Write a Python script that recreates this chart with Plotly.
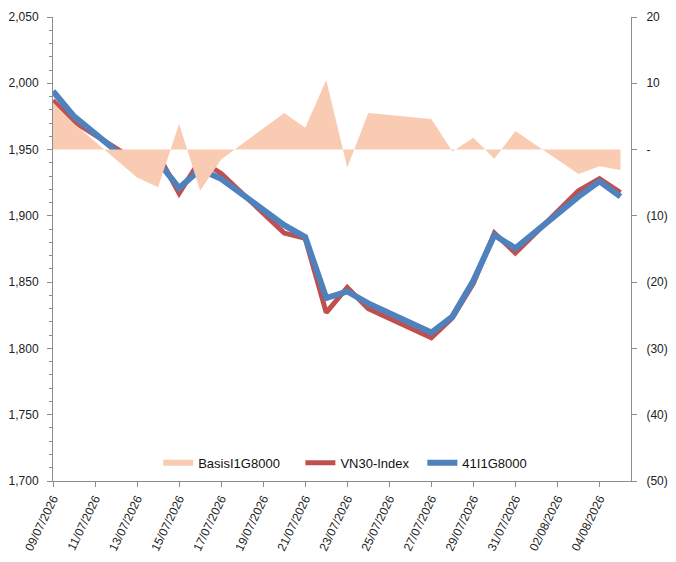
import plotly.graph_objects as go

# trading days (weekends skipped)
dates = ['2026-07-09', '2026-07-10', '2026-07-13', '2026-07-14', '2026-07-15',
         '2026-07-16', '2026-07-17', '2026-07-20', '2026-07-21', '2026-07-22',
         '2026-07-23', '2026-07-24', '2026-07-27', '2026-07-28', '2026-07-29',
         '2026-07-30', '2026-07-31', '2026-08-03', '2026-08-04', '2026-08-05']

vn30 = [1987, 1971, 1941, 1946, 1917, 1942, 1932, 1887, 1883, 1827,
        1846, 1830, 1808, 1823, 1849, 1887, 1872, 1919, 1928, 1917.5]

fut = [1994, 1975, 1936, 1941, 1921, 1935, 1928, 1893, 1884, 1838,
       1843, 1834, 1812, 1824, 1851, 1885.5, 1875.5, 1914.5, 1926, 1914.5]

basis = [7.1, 3.9, -4.2, -5.7, 3.9, -6.2, -1.5, 5.5, 3.3, 10.5,
         -2.7, 5.5, 4.6, -0.3, 1.8, -1.4, 2.8, -3.7, -2.5, -3.1]

right_vals = [20, 10, 0, -10, -20, -30, -40, -50]
right_text = ['20', '10', '-', '(10)', '(20)', '(30)', '(40)', '(50)']

axis_col = '#8c8c8c'
font = dict(family='Liberation Sans, Arial, sans-serif', size=12, color='#222222')

fig = go.Figure()
fig.add_trace(go.Scatter(x=dates, y=basis, name='BasisI1G8000', yaxis='y2',
                         mode='none', fill='tozeroy', fillcolor='#f9cbb3',
                         legend='legend'))
fig.add_trace(go.Scatter(x=dates, y=vn30, name='VN30-Index', mode='lines',
                         line=dict(color='#c0504d', width=5), legend='legend2'))
fig.add_trace(go.Scatter(x=dates, y=fut, name='41I1G8000', mode='lines',
                         line=dict(color='#4f81bd', width=6), legend='legend3'))

leg = dict(y=0.039, yanchor='middle', xanchor='left', bgcolor='rgba(0,0,0,0)',
           font=dict(size=13, color='#111111'), itemwidth=30)

# page body has an 8px margin, so the margins are shifted by 8px
fig.update_layout(
    width=676, height=562,
    margin=dict(l=45, r=53, t=9, b=89),
    paper_bgcolor='white', plot_bgcolor='white',
    font=font,
    showlegend=True,
    legend=dict(leg, x=0.182),
    legend2=dict(leg, x=0.428),
    legend3=dict(leg, x=0.639),
    xaxis=dict(type='date', range=['2026-07-09', '2026-08-05 12:00'],
               tick0='2026-07-09', dtick=2 * 86400000, tickformat='%d/%m/%Y',
               tickangle=-64, showgrid=False, zeroline=False,
               showline=True, linecolor=axis_col, linewidth=1,
               ticks='outside', ticklen=5, tickcolor=axis_col, automargin=False),
    yaxis=dict(range=[1700, 2050], dtick=50, tickformat=',', showgrid=False,
               zeroline=False, showline=True, linecolor=axis_col, linewidth=1,
               ticks='outside', ticklen=5, tickcolor=axis_col, automargin=False,
               ticklabelstandoff=6,
               minor=dict(dtick=10, ticks='outside', ticklen=3, tickcolor=axis_col)),
    yaxis2=dict(range=[-50, 20], overlaying='y', side='right', tickvals=right_vals,
                ticktext=right_text, showgrid=False, zeroline=False,
                showline=True, linecolor=axis_col, linewidth=1,
                ticks='outside', ticklen=5, tickcolor=axis_col, automargin=False,
                ticklabelstandoff=7),
)

fig.write_html("out.html")
